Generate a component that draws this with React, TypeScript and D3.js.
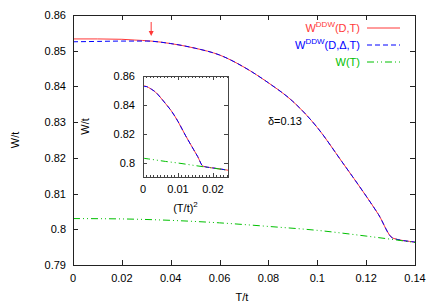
import * as d3 from 'd3';
import { useEffect, useRef } from 'react';

const width = 436;
const height = 305;

// temperature grid (T/t) and order parameters
const redT = [0, 0.01, 0.02, 0.025, 0.032, 0.04, 0.05, 0.06, 0.07, 0.08, 0.09, 0.1, 0.11, 0.12, 0.125, 0.131, 0.14, 0.15, 0.156];
const redW = [0.8533, 0.8533, 0.8532, 0.853, 0.8527, 0.852, 0.8507, 0.8488, 0.8454, 0.841, 0.8358, 0.8285, 0.819, 0.8093, 0.8042, 0.7975, 0.7964, 0.7954, 0.7947];
const blueT = [0, 0.01, 0.02, 0.03, 0.04, 0.05, 0.06, 0.07, 0.08, 0.09, 0.1, 0.11, 0.12, 0.125, 0.131, 0.14, 0.15, 0.156];
const blueW = [0.8525, 0.8526, 0.8527, 0.8527, 0.852, 0.8507, 0.8488, 0.8454, 0.841, 0.8358, 0.8285, 0.819, 0.8093, 0.8042, 0.7975, 0.7964, 0.7954, 0.7947];
const greenT = [0, 0.02, 0.04, 0.06, 0.08, 0.1, 0.12, 0.14, 0.156];
const greenW = [0.803, 0.8029, 0.8025, 0.8018, 0.8008, 0.7997, 0.7981, 0.7963, 0.7947];

const xTicks = [0, 0.02, 0.04, 0.06, 0.08, 0.1, 0.12, 0.14];
const yTicks = [0.79, 0.8, 0.81, 0.82, 0.83, 0.84, 0.85, 0.86];
const insetXTicks = [0, 0.01, 0.02];
const insetYTicks = [0.8, 0.82, 0.84, 0.86];
const arrowT = 0.032;
const deltaLabel = 'δ=0.13';

const series = [
  { name: 'red', T: redT, W: redW, color: '#ff3838', dash: null, label: ['W', 'DDW', '(D,T)'] },
  { name: 'blue', T: blueT, W: blueW, color: '#0000ff', dash: '5,3', label: ['W', 'DDW', '(D,Δ,T)'] },
  { name: 'green', T: greenT, W: greenW, color: '#00c000', dash: '7,3,1,3,1,3', label: ['W(T)', '', ''] },
];

const font = '"Liberation Sans", Arial, sans-serif';

const App = () => {
  const svgRef = useRef(null);

  useEffect(() => {
    const svg = d3.select(svgRef.current);
    svg.selectAll('*').remove();
    svg.style('font-family', font).style('font-size', '11px');

    const m = { left: 73, right: 415, top: 15, bottom: 265 };
    const x = d3.scaleLinear().domain([0, 0.14]).range([m.left, m.right]);
    const y = d3.scaleLinear().domain([0.79, 0.86]).range([m.bottom, m.top]);

    const defs = svg.append('defs');
    defs.append('clipPath').attr('id', 'clipMain')
      .append('rect').attr('x', m.left).attr('y', m.top)
      .attr('width', m.right - m.left).attr('height', m.bottom - m.top);

    const frameColor = '#222';

    // main ticks (mirrored)
    const ax = svg.append('g').attr('stroke', frameColor).attr('stroke-width', 1);
    xTicks.forEach((t) => {
      const px = Math.round(x(t)) + 0.5;
      ax.append('line').attr('x1', px).attr('x2', px).attr('y1', m.bottom).attr('y2', m.bottom - 5);
      ax.append('line').attr('x1', px).attr('x2', px).attr('y1', m.top).attr('y2', m.top + 5);
    });
    yTicks.forEach((t) => {
      const py = Math.round(y(t)) + 0.5;
      ax.append('line').attr('x1', m.left).attr('x2', m.left + 5).attr('y1', py).attr('y2', py);
      ax.append('line').attr('x1', m.right).attr('x2', m.right - 5).attr('y1', py).attr('y2', py);
    });

    svg.append('g').selectAll('text').data(xTicks).join('text')
      .attr('x', (d) => x(d)).attr('y', 282).attr('text-anchor', 'middle')
      .text((d) => d3.format('~g')(d));
    svg.append('g').selectAll('text').data(yTicks).join('text')
      .attr('x', 66).attr('y', (d) => y(d) + 4).attr('text-anchor', 'end')
      .text((d) => d3.format('~g')(d));

    svg.append('text').attr('x', (m.left + m.right) / 2 - 2).attr('y', 301)
      .attr('text-anchor', 'middle').text('T/t');
    svg.append('text').attr('transform', `translate(19,${(m.top + m.bottom) / 2}) rotate(-90)`)
      .attr('text-anchor', 'middle').text('W/t');

    const lineMain = (T, W) =>
      d3.line().x((d, i) => x(T[i])).y((d, i) => y(W[i])).curve(d3.curveMonotoneX)(T);

    const gl = svg.append('g').attr('clip-path', 'url(#clipMain)');
    series.forEach((s) => {
      gl.append('path').attr('d', lineMain(s.T, s.W)).attr('fill', 'none')
        .attr('stroke', s.color).attr('stroke-width', 1)
        .attr('stroke-dasharray', s.dash);
    });

    svg.append('rect').attr('x', m.left + 0.5).attr('y', m.top + 0.5)
      .attr('width', m.right - m.left).attr('height', m.bottom - m.top)
      .attr('fill', 'none').attr('stroke', frameColor);

    // arrow marking the split of the red curve
    const axp = x(arrowT);
    svg.append('line').attr('x1', axp).attr('x2', axp).attr('y1', 22).attr('y2', 34)
      .attr('stroke', '#ff3838');
    svg.append('path').attr('d', `M${axp - 2.5},31L${axp},36L${axp + 2.5},31Z`).attr('fill', '#ff3838');

    svg.append('text').attr('x', 268).attr('y', 125).text(deltaLabel);

    // legend
    series.forEach((s, i) => {
      const ly = 28 + i * 17;
      const t = svg.append('text').attr('x', 360).attr('y', ly + 4).attr('text-anchor', 'end')
        .attr('fill', s.color);
      t.append('tspan').text(s.label[0]);
      if (s.label[1]) {
        t.append('tspan').attr('dy', -5).style('font-size', '8px').text(s.label[1]);
        t.append('tspan').attr('dy', 5).text(s.label[2]);
      }
      svg.append('line').attr('x1', 367).attr('x2', 400).attr('y1', ly).attr('y2', ly)
        .attr('stroke', s.color).attr('stroke-dasharray', s.dash);
    });

    // inset: W vs (T/t)^2
    const im = { left: 143, right: 228, top: 76, bottom: 177 };
    const xi = d3.scaleLinear().domain([0, 0.0243]).range([im.left, im.right]);
    const yi = d3.scaleLinear().domain([0.79, 0.86]).range([im.bottom, im.top]);
    defs.append('clipPath').attr('id', 'clipInset')
      .append('rect').attr('x', im.left).attr('y', im.top)
      .attr('width', im.right - im.left).attr('height', im.bottom - im.top);

    svg.append('rect').attr('x', im.left).attr('y', im.top)
      .attr('width', im.right - im.left).attr('height', im.bottom - im.top).attr('fill', '#fff');

    const gi = svg.append('g').attr('clip-path', 'url(#clipInset)');
    series.forEach((s) => {
      const path = d3.line().x((d, i) => xi(s.T[i] * s.T[i])).y((d, i) => yi(s.W[i]))
        .curve(d3.curveMonotoneX)(s.T);
      gi.append('path').attr('d', path).attr('fill', 'none')
        .attr('stroke', s.color).attr('stroke-width', 1)
        .attr('stroke-dasharray', s.dash);
    });

    const ai = svg.append('g').attr('stroke', '#444').attr('stroke-width', 1);
    d3.range(0, 0.0243, 0.001).forEach((t, k) => {
      const px = Math.round(xi(t)) + 0.5;
      const len = k % 10 === 0 ? 4 : 2;
      ai.append('line').attr('x1', px).attr('x2', px).attr('y1', im.bottom).attr('y2', im.bottom - len);
      ai.append('line').attr('x1', px).attr('x2', px).attr('y1', im.top).attr('y2', im.top + len);
    });
    insetYTicks.forEach((t) => {
      const py = Math.round(yi(t)) + 0.5;
      ai.append('line').attr('x1', im.left).attr('x2', im.left + 4).attr('y1', py).attr('y2', py);
      ai.append('line').attr('x1', im.right).attr('x2', im.right - 4).attr('y1', py).attr('y2', py);
    });
    svg.append('rect').attr('x', im.left + 0.5).attr('y', im.top + 0.5)
      .attr('width', im.right - im.left).attr('height', im.bottom - im.top)
      .attr('fill', 'none').attr('stroke', '#444');

    svg.append('g').selectAll('text').data(insetXTicks).join('text')
      .attr('x', (d) => xi(d)).attr('y', 193).attr('text-anchor', 'middle')
      .text((d) => d3.format('~g')(d));
    svg.append('g').selectAll('text').data(insetYTicks).join('text')
      .attr('x', 135).attr('y', (d) => yi(d) + 4).attr('text-anchor', 'end')
      .text((d) => d3.format('~g')(d));

    const tx = svg.append('text').attr('x', (im.left + im.right) / 2).attr('y', 212)
      .attr('text-anchor', 'middle');
    tx.append('tspan').text('(T/t)');
    tx.append('tspan').attr('dy', -5).style('font-size', '8px').text('2');
    svg.append('text').attr('transform', `translate(89,${(im.top + im.bottom) / 2}) rotate(-90)`)
      .attr('text-anchor', 'middle').text('W/t');
  }, []);

  return (
    <svg ref={svgRef} width={width} height={height}
      style={{ position: 'absolute', left: 0, top: 0, background: '#fff' }} />
  );
};

export default App;
